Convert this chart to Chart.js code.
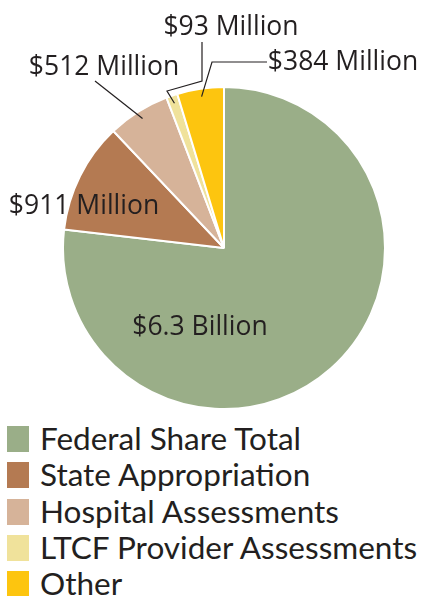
<!DOCTYPE html>
<html>
<head>
<meta charset="utf-8">
<script src="https://cdn.jsdelivr.net/npm/chart.js@4"></script>
<style>
  body { margin: 0; background: #fff; }
  #wrap { position: relative; width: 422px; height: 596px; overflow: hidden; }
  #pie_box { position: absolute; left: 0; top: 0; width: 422px; height: 410px; }
  #funding_legend { position: absolute; left: 7px; top: 420px; margin: 0; padding: 0; list-style: none; }
  #funding_legend li { display: flex; align-items: center; height: 36.25px; }
  #funding_legend .swatch { width: 22px; height: 26px; margin-right: 11px; margin-top: 2px; }
  #funding_legend .txt { font-family: Lato, sans-serif; font-size: 31.5px; color: #231f20; white-space: nowrap; }
</style>
</head>
<body>
<div id="wrap">
  <div id="pie_box"><canvas id="funding_pie"></canvas></div>
  <ul id="funding_legend"></ul>
</div>
<script>
// funding sources, in millions of dollars
const source_names = ["Federal Share Total", "State Appropriation", "Hospital Assessments", "LTCF Provider Assessments", "Other"]
const source_amounts = [6300, 911, 512, 93, 384]
const amount_labels = ["$6.3 Billion", "$911 Million", "$512 Million", "$93 Million", "$384 Million"]
const source_colors = ["#9aae88", "#b47a52", "#d6b399", "#f0e29b", "#fdc50f"]

// where each value label goes, relative to the pie centre; leader = polyline from slice to label
const label_spots = [
  { dx: -24, dy: 79 },
  { dx: -140, dy: -42 },
  { dx: -120, dy: -181, leader: [[-129, -167]] },
  { dx: 7, dy: -221, leader: [[-57, -157], [-22, -167], [-22, -206]] },
  { dx: 119, dy: -186, leader: [[-12, -186], [43, -186]] }
]

const valueLabels = {
  id: "valueLabels",
  afterDatasetsDraw(chart) {
    let ctx = chart.ctx
    let arcs = chart.getDatasetMeta(0).data
    ctx.save()
    ctx.font = "26.5px 'Open Sans'"
    ctx.fillStyle = "#231f20"
    ctx.strokeStyle = "#231f20"
    ctx.lineWidth = 1.2
    ctx.textAlign = "center"
    ctx.textBaseline = "middle"
    arcs.forEach((arc, i) => {
      let spot = label_spots[i]
      let cx = arc.x, cy = arc.y
      if (spot.leader) {
        // start the leader inside the slice, at its middle angle
        let mid = (arc.startAngle + arc.endAngle) / 2
        let r = arc.outerRadius * 0.95
        ctx.beginPath()
        ctx.moveTo(cx + Math.cos(mid) * r, cy + Math.sin(mid) * r)
        spot.leader.forEach(p => ctx.lineTo(cx + p[0], cy + p[1]))
        ctx.stroke()
      }
      ctx.fillText(amount_labels[i], cx + spot.dx, cy + spot.dy)
    })
    ctx.restore()
  }
}

const htmlLegend = {
  id: "htmlLegend",
  afterUpdate(chart) {
    let ul = document.getElementById("funding_legend")
    ul.innerHTML = ""
    chart.options.plugins.legend.labels.generateLabels(chart).forEach(item => {
      let li = document.createElement("li")
      let box = document.createElement("span")
      box.className = "swatch"
      box.style.background = item.fillStyle
      let txt = document.createElement("span")
      txt.className = "txt"
      txt.textContent = item.text
      li.appendChild(box); li.appendChild(txt)
      ul.appendChild(li)
    })
  }
}

new Chart(document.getElementById("funding_pie"), {
  type: "pie",
  data: {
    labels: source_names,
    datasets: [{
      data: source_amounts,
      backgroundColor: source_colors,
      borderColor: "#ffffff",
      borderWidth: 2
    }]
  },
  options: {
    responsive: true,
    maintainAspectRatio: false,
    animation: false,
    layout: { padding: { top: 86, left: 62, right: 36, bottom: 0 } },
    plugins: {
      legend: { display: false },
      tooltip: { enabled: false }
    }
  },
  plugins: [valueLabels, htmlLegend]
})
</script>
</body>
</html>
